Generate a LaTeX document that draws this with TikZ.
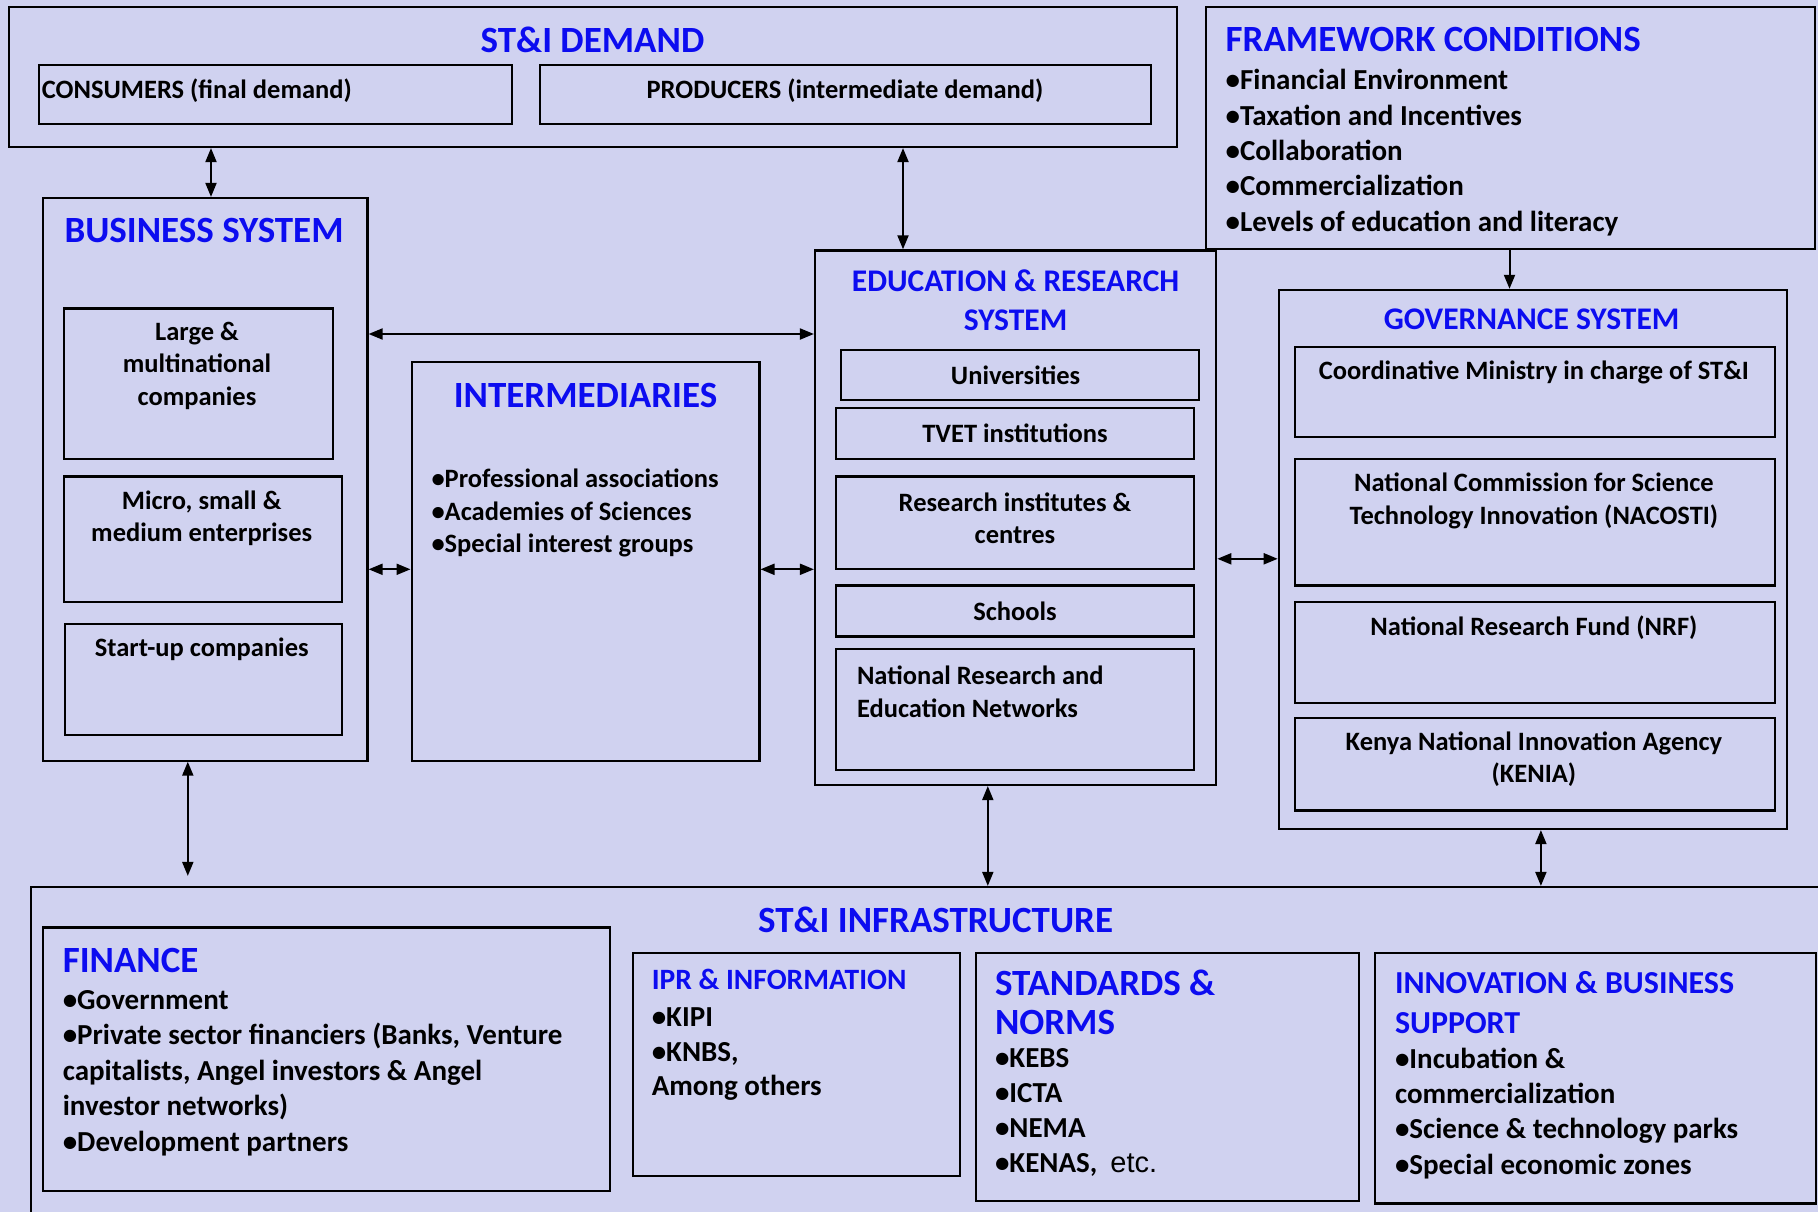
\documentclass[tikz,border=0pt]{standalone}
\usepackage{fontspec}
\setmainfont{Carlito}
\newfontfamily\arialfont{Liberation Sans}
\usepackage{tikz}
\usetikzlibrary{fit, positioning, arrows.meta}
\definecolor{lavender}{RGB}{208, 210, 240}
\definecolor{headblue}{RGB}{12, 12, 240}

\tikzset{
  frame/.style={draw, line width=2.2pt, inner sep=0pt},
  head/.style={text=headblue, font=\bfseries\fontsize{37}{42}\selectfont, inner sep=0pt},
  subhead/.style={text=headblue, font=\bfseries\fontsize{31.5}{39.4}\selectfont, inner sep=0pt, align=center},
  item/.style={font=\bfseries\fontsize{29}{35.4}\selectfont, inner sep=0pt, anchor=north west, align=left},
  small/.style={font=\bfseries\fontsize{26.5}{32.4}\selectfont, inner sep=0pt, align=center},
  link/.style={line width=2pt, {Triangle[length=14pt,width=11pt]}-{Triangle[length=14pt,width=11pt]}},
}

\begin{document}
\begin{tikzpicture}[x=1pt, y=-1pt]
\useasboundingbox (0,0) rectangle (1818,1212);
\clip (0,0) rectangle (1818,1212);
\fill[lavender] (0,0) rectangle (1818,1212);

% demand
\node[frame, fit={(9,7) (1177,147)}] (demand) {};
\node[head] (demandtitle) at (592.5,39.4) {ST\&I DEMAND};
\node[frame, fit={(39,65) (512,124)}] (consumers) {};
\node[small, anchor=west] at (41.7,90.4) {CONSUMERS (final demand)};
\node[frame, fit={(540,65) (1151,124)}] (producers) {};
\node[small] at (845,90.4) {PRODUCERS (intermediate demand)};

% framework conditions
\node[frame, fit={(1206,7) (1815,249)}] (framework) {};
\node[head, anchor=west] (fwtitle) at (1225.5,39.4) {FRAMEWORK CONDITIONS};
\node[item] (fwlist) at (1225.5,69.2)
  {•Financial Environment\\•Taxation and Incentives\\•Collaboration\\•Commercialization\\•Levels of education and literacy};

% business system
\node[frame, fit={(43,198) (367.5,760.6)}] (business) {};
\node[head] (bustitle) at (204,230.7) {BUSINESS SYSTEM};
\node[frame, fit={(64,308.4) (332.7,459.1)}] (large) {};
\node[small] at (197,365.8) {Large \&\\multinational\\companies};
\node[frame, fit={(64,476.5) (342,601.7)}] (micro) {};
\node[small] at (201.7,518.2) {Micro, small \&\\medium enterprises};
\node[frame, fit={(65,623.8) (342,735)}] (startup) {};
\node[small] at (201.7,649.3) {Start-up companies};

% intermediaries
\node[frame, fit={(411.6,361.7) (759.4,760.6)}] (intermed) {};
\node[head] (inttitle) at (585.5,395.4) {INTERMEDIARIES};
\node[item, font=\bfseries\fontsize{26.5}{32.4}\selectfont] (intlist) at (431.3,469)
  {•Professional associations\\•Academies of Sciences\\•Special interest groups};

% education and research
\node[frame, fit={(815,250.4) (1216.2,785)}] (education) {};
\node[subhead] (edutitle) at (1015.6,300.3) {EDUCATION \& RESEARCH\\SYSTEM};
\node[frame, fit={(840.6,350.1) (1198.8,400)}] (univ) {};
\node[small] at (1015.6,375.6) {Universities};
\node[frame, fit={(835.9,408.1) (1194.2,459.1)}] (tvet) {};
\node[small] at (1015,433.6) {TVET institutions};
\node[frame, fit={(835.9,476.5) (1194.2,569.3)}] (research) {};
\node[small] at (1015,518.2) {Research institutes \&\\centres};
\node[frame, fit={(835.9,585.5) (1194.2,636.5)}] (schools) {};
\node[small] at (1015,611) {Schools};
\node[frame, fit={(835.9,649.3) (1194.2,769.8)}] (nren) {};
\node[small, anchor=north west, align=left] at (856.8,666.1) {National Research and\\Education Networks};

% governance
\node[frame, fit={(1278.8,289.9) (1786.6,829)}] (governance) {};
\node[subhead] (govtitle) at (1531.6,318.8) {GOVERNANCE SYSTEM};
\node[frame, fit={(1295,346.7) (1775,437.1)}] (ministry) {};
\node[small] at (1533.9,372.2) {Coordinative Ministry in charge of ST\&I};
\node[frame, fit={(1295,459.1) (1775,585.5)}] (nacosti) {};
\node[small] at (1533.9,500.9) {National Commission for Science\\Technology Innovation (NACOSTI)};
\node[frame, fit={(1295,601.7) (1775,702.6)}] (nrf) {};
\node[small] at (1533.9,627.2) {National Research Fund (NRF)};
\node[frame, fit={(1295,717.7) (1775,810.4)}] (kenia) {};
\node[small] at (1533.9,759.4) {Kenya National Innovation Agency\\(KENIA)};

% infrastructure
\node[frame, fit={(31.3,887) (1840,1240)}] (infra) {};
\node[head] (infratitle) at (935.6,919.4) {ST\&I INFRASTRUCTURE};
\node[frame, fit={(43,927.5) (609.8,1190.7)}] (finance) {};
\node[head, anchor=west] at (62.6,960) {FINANCE};
\node[item, font=\bfseries\fontsize{29}{35.6}\selectfont] at (62.6,989.8)
  {•Government\\•Private sector financiers (Banks, Venture\\capitalists, Angel investors \& Angel\\investor networks)\\•Development partners};
\node[frame, fit={(633,953) (960,1175.6)}] (ipr) {};
\node[subhead, anchor=west, font=\bfseries\fontsize{29.5}{34}\selectfont] at (651.6,979.7) {IPR \& INFORMATION};
\node[item, font=\bfseries\fontsize{29}{34.8}\selectfont] at (651.6,1007.2)
  {•KIPI\\•KNBS,\\Among others};
\node[frame, fit={(976.2,953) (1358.8,1201.1)}] (standards) {};
\node[head, anchor=north west, align=left, font=\bfseries\fontsize{37}{38.3}\selectfont] at (994.8,970) {STANDARDS \&\\NORMS};
\node[item, font=\bfseries\fontsize{29}{35.2}\selectfont] at (994.8,1047.8)
  {•KEBS\\•ICTA\\•NEMA\\•KENAS,\ \ {\arialfont\mdseries etc.}};
\node[frame, fit={(1375,953) (1816,1203.5)}] (innovation) {};
\node[head, anchor=north west, align=left, font=\bfseries\fontsize{32}{39.4}\selectfont] at (1394.8,971.5) {INNOVATION \& BUSINESS\\SUPPORT};
\node[item, font=\bfseries\fontsize{29}{35.2}\selectfont] at (1394.8,1047.8)
  {•Incubation \&\\commercialization\\•Science \& technology parks\\•Special economic zones};

% arrows
\coordinate (xa) at (211,0);
\coordinate (xb) at (903,0);
\coordinate (xc) at (1509.5,0);
\coordinate (xd) at (187.8,0);
\coordinate (xe) at (987.8,0);
\coordinate (xf) at (1540.9,0);
\coordinate (ya) at (0,334);
\coordinate (yb) at (0,569.3);
\coordinate (yc) at (0,558.8);
\draw[link] (demand.south -| xa) -- (business.north -| xa);
\draw[link] (demand.south -| xb) -- (education.north -| xb);
\draw[link, {Triangle[length=14pt,width=11pt]}-] (governance.north -| xc) -- (framework.south -| xc);
\draw[link] (business.east |- ya) -- (education.west |- ya);
\draw[link] (business.east |- yb) -- (intermed.west |- yb);
\draw[link] (intermed.east |- yb) -- (education.west |- yb);
\draw[link] (education.east |- yc) -- (governance.west |- yc);
\draw[link, shorten >=10pt] (business.south -| xd) -- (infra.north -| xd);
\draw[link] (education.south -| xe) -- (infra.north -| xe);
\draw[link] (governance.south -| xf) -- (infra.north -| xf);
\end{tikzpicture}
\end{document}
